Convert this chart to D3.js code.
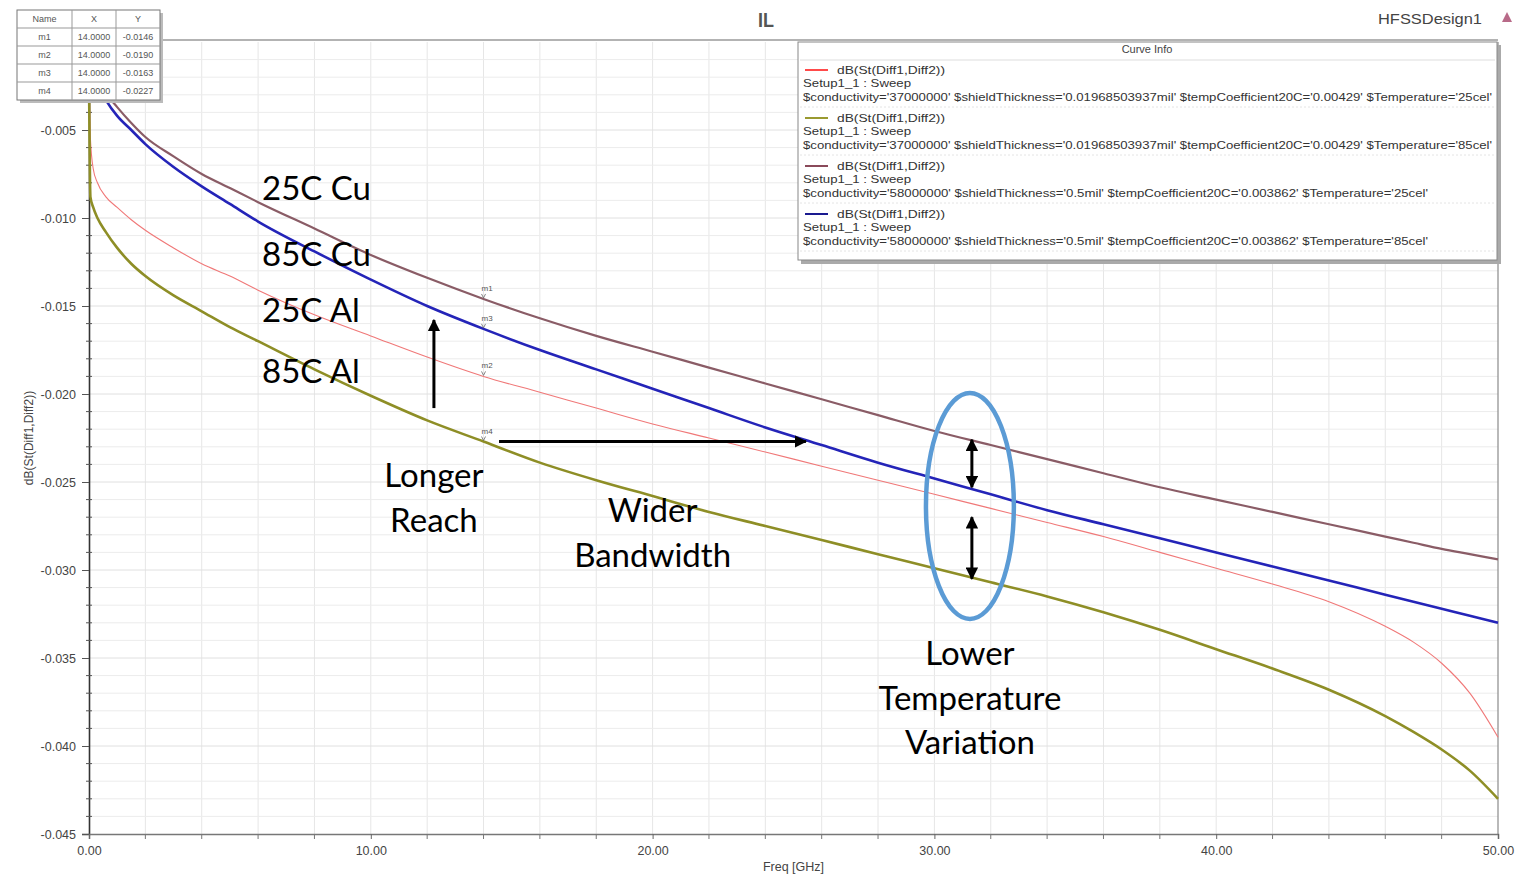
<!DOCTYPE html>
<html>
<head>
<meta charset="utf-8">
<script src="https://cdn.jsdelivr.net/npm/d3@7"></script>
<style>
  html, body { margin: 0; padding: 0; background: #fff; }
  svg { display: block; }
  .anno { font-family: Lato, "Open Sans", sans-serif; fill: #000; font-size: 33px; }
</style>
</head>
<body>
<svg id="chart" width="1524" height="887"></svg>
<script>
// ---------------- data ----------------
const freq = [0, 0.05, 0.15, 0.3, 0.6, 1, 1.5, 2, 3, 4, 5, 6, 8, 10, 12, 14, 16, 18, 20, 22, 24, 26, 28, 30, 32, 34, 36, 38, 40, 42, 44, 46, 47, 48, 49, 50];

const al25 = [-0.0010, -0.0055, -0.0072, -0.0080, -0.0088, -0.0094, -0.0101, -0.0107, -0.0117, -0.0126, -0.0133, -0.0141, -0.0155, -0.0167, -0.0179, -0.0190, -0.0199, -0.0208, -0.0217, -0.0225, -0.0233, -0.0241, -0.0249, -0.0257, -0.0265, -0.0273, -0.0281, -0.0290, -0.0299, -0.0308, -0.0318, -0.0332, -0.0341, -0.0353, -0.0370, -0.0395];
const al85 = [-0.0020, -0.0088, -0.0094, -0.0100, -0.0108, -0.0117, -0.0126, -0.0133, -0.0144, -0.0153, -0.0162, -0.0170, -0.0186, -0.0201, -0.0215, -0.0227, -0.0239, -0.0249, -0.0258, -0.0267, -0.0275, -0.0283, -0.0291, -0.0299, -0.0307, -0.0315, -0.0324, -0.0334, -0.0345, -0.0356, -0.0368, -0.0383, -0.0392, -0.0402, -0.0414, -0.0430];
const cu25 = [-0.0004, -0.0009, -0.0015, -0.0021, -0.0029, -0.0037, -0.0046, -0.0054, -0.0065, -0.0075, -0.0083, -0.0091, -0.0106, -0.0121, -0.0134, -0.0146, -0.0157, -0.0167, -0.0176, -0.0185, -0.0194, -0.0203, -0.0212, -0.0221, -0.0229, -0.0237, -0.0245, -0.0253, -0.0260, -0.0267, -0.0274, -0.0281, -0.02845, -0.0288, -0.0291, -0.0294];
const cu85 = [-0.0005, -0.0010, -0.0017, -0.0024, -0.0033, -0.0042, -0.0050, -0.0058, -0.0071, -0.0082, -0.0092, -0.0102, -0.0119, -0.0135, -0.0150, -0.0163, -0.0175, -0.0186, -0.0197, -0.0208, -0.0219, -0.0229, -0.0239, -0.0248, -0.0257, -0.0266, -0.0274, -0.0282, -0.0290, -0.0298, -0.0306, -0.0314, -0.0318, -0.0322, -0.0326, -0.0330];

const seriesNames = ["Al 25C", "Al 85C", "Cu 25C", "Cu 85C"];
const seriesValues = [al25, al85, cu25, cu85];
const seriesColors = ["#f07878", "#8e8e26", "#8a5c66", "#2424b8"];
const seriesWidths = [1.1, 2.6, 2.2, 2.6];
const drawOrder = [0, 2, 3, 1];

const legendName = "dB(St(Diff1,Diff2))";
const legendSetup = "Setup1_1 : Sweep";
const legendParams = [
  "$conductivity='37000000' $shieldThickness='0.01968503937mil' $tempCoefficient20C='0.00429' $Temperature='25cel'",
  "$conductivity='37000000' $shieldThickness='0.01968503937mil' $tempCoefficient20C='0.00429' $Temperature='85cel'",
  "$conductivity='58000000' $shieldThickness='0.5mil' $tempCoefficient20C='0.003862' $Temperature='25cel'",
  "$conductivity='58000000' $shieldThickness='0.5mil' $tempCoefficient20C='0.003862' $Temperature='85cel'"
];
const legendColors = ["#ff4a4a", "#9a9a30", "#8a4a5a", "#1a1a90"];

const markerNames = ["m1", "m2", "m3", "m4"];
const markerFreq = [14, 14, 14, 14];
const markerValues = [-0.0146, -0.0190, -0.0163, -0.0227];

const xTicks = [0, 10, 20, 30, 40, 50];
const yTicks = [-0.005, -0.010, -0.015, -0.020, -0.025, -0.030, -0.035, -0.040, -0.045];

// annotations (data units)
const labelTexts = ["25C Cu", "85C Cu", "25C Al", "85C Al"];
const labelPos = [[6.14, -0.0090], [6.14, -0.0127], [6.14, -0.0159], [6.14, -0.0194]];
const noteTexts = [["Longer", "Reach"], ["Wider", "Bandwidth"], ["Lower", "Temperature", "Variation"]];
const notePos = [[12.24, -0.0253], [20.0, -0.0273], [31.26, -0.0354]];

// ---------------- layout ----------------
const svg = d3.select("#chart");
const x = d3.scaleLinear().domain([0, 50]).range([89, 1498]);
const y = d3.scaleLinear().domain([-0.045, 0]).range([834, 42]);
const FONT = "'Liberation Sans', Arial, sans-serif";

// grid
const grid = svg.append("g");
grid.selectAll("line.vg").data(d3.range(2, 50, 2)).enter().append("line")
  .attr("x1", d => x(d)).attr("x2", d => x(d)).attr("y1", y(0)).attr("y2", y(-0.045))
  .attr("stroke", "#e6e6e6").attr("stroke-width", 1);
grid.selectAll("line.hg").data(d3.range(1, 45).map(i => -i * 0.001)).enter().append("line")
  .attr("x1", x(0)).attr("x2", x(50)).attr("y1", d => y(d)).attr("y2", d => y(d))
  .attr("stroke", d => (Math.round(-d * 1000) % 5 === 0) ? "#e0e0e0" : "#ececec").attr("stroke-width", 1);

// frame
svg.append("line").attr("x1", x(0)).attr("x2", x(50)).attr("y1", y(0) - 2).attr("y2", y(0) - 2).attr("stroke", "#9a9a9a").attr("stroke-width", 1.5);
svg.append("line").attr("x1", x(50)).attr("x2", x(50)).attr("y1", y(0)).attr("y2", y(-0.045)).attr("stroke", "#8a8a8a").attr("stroke-width", 1.2);

// axes
const fmtY = d => d3.format(".3f")(d).replace("\u2212", "-");
const yAxis = d3.axisLeft(y).tickValues(yTicks).tickFormat(fmtY).tickSize(7).tickPadding(6);
const gy = svg.append("g").attr("transform", `translate(${x(0)},0)`).call(yAxis);
gy.select(".domain").attr("stroke", "#333").attr("stroke-width", 1.6);
gy.selectAll(".tick line").attr("stroke", "#555");
gy.selectAll(".tick text").style("font-size", "12.5px").style("font-family", FONT).attr("fill", "#444");
const yMinor = d3.range(1, 45).map(i => -i * 0.001).filter(v => Math.round(-v * 1000) % 5 !== 0);
svg.append("g").selectAll("line").data(yMinor).enter().append("line")
  .attr("x1", x(0) - 3).attr("x2", x(0) + 3).attr("y1", d => y(d)).attr("y2", d => y(d))
  .attr("stroke", "#555").attr("stroke-width", 1);

const xAxis = d3.axisBottom(x).tickValues(xTicks).tickFormat(d3.format(".2f")).tickSize(5).tickPadding(7);
const gx = svg.append("g").attr("transform", `translate(0,${y(-0.045)})`).call(xAxis);
gx.select(".domain").attr("stroke", "#777").attr("stroke-width", 1.6);
gx.selectAll(".tick line").attr("stroke", "#666");
gx.selectAll(".tick text").style("font-size", "12.5px").style("font-family", FONT).attr("fill", "#444");
svg.append("g").selectAll("line").data(d3.range(2, 50, 2).filter(d => d % 10 !== 0)).enter().append("line")
  .attr("x1", d => x(d)).attr("x2", d => x(d)).attr("y1", y(-0.045)).attr("y2", y(-0.045) + 5)
  .attr("stroke", "#777").attr("stroke-width", 1);

// axis titles
svg.append("text").attr("x", x(25.0)).attr("y", 871).attr("text-anchor", "middle")
  .style("font-family", FONT).style("font-size", "12.5px").attr("fill", "#444")
  .text("Freq [GHz]");
svg.append("text").attr("transform", `translate(33,${y(-0.0225)}) rotate(-90)`).attr("text-anchor", "middle")
  .style("font-family", FONT).style("font-size", "12px").attr("fill", "#444")
  .text("dB(St(Diff1,Diff2))");

// title
svg.append("text").attr("x", 766).attr("y", 27).attr("text-anchor", "middle")
  .style("font-family", FONT).style("font-size", "21px").style("font-weight", "bold").attr("fill", "#555")
  .attr("textLength", 16).attr("lengthAdjust", "spacingAndGlyphs").text("IL");
svg.append("text").attr("x", 1430).attr("y", 24).attr("text-anchor", "middle")
  .style("font-family", FONT).style("font-size", "14px").attr("fill", "#444")
  .attr("textLength", 104).attr("lengthAdjust", "spacingAndGlyphs").text("HFSSDesign1");
svg.append("path").attr("d", "M1502,22 L1507,12 L1512,22 Z").attr("fill", "#b86a88");

// curves
const line = d3.line().x(d => x(d[0])).y(d => y(d[1])).curve(d3.curveMonotoneX);
const curves = svg.append("g");
drawOrder.forEach(i => {
  const pts = freq.map((f, k) => [f, seriesValues[i][k]]);
  curves.append("path").datum(pts).attr("d", line)
    .attr("fill", "none").attr("stroke", seriesColors[i]).attr("stroke-width", seriesWidths[i])
    .attr("stroke-linejoin", "round");
});

// curve markers
const mk = svg.append("g");
markerNames.forEach((n, i) => {
  const cx = x(markerFreq[i]), cy = y(markerValues[i]);
  mk.append("text").attr("x", cx - 2).attr("y", cy - 8)
    .style("font-family", FONT).style("font-size", "8px").attr("fill", "#555").text(n);
  mk.append("path").attr("d", `M${cx - 2},${cy - 5} L${cx},${cy - 1} L${cx + 2},${cy - 5}`)
    .attr("fill", "none").attr("stroke", "#666").attr("stroke-width", 0.8);
});

// marker table
const tbl = svg.append("g");
tbl.append("rect").attr("x", 20).attr("y", 13).attr("width", 143).attr("height", 90).attr("fill", "#bbb");
tbl.append("rect").attr("x", 17).attr("y", 10).attr("width", 143).attr("height", 90).attr("fill", "#fff").attr("stroke", "#777");
const cols = [17, 72, 116, 160];
const rowsTxt = [["Name", "X", "Y"]].concat(markerNames.map((n, i) => [n, markerFreq[i].toFixed(4), markerValues[i].toFixed(4)]));
rowsTxt.forEach((r, ri) => {
  const ty = 10 + ri * 18;
  if (ri > 0) tbl.append("line").attr("x1", 17).attr("x2", 160).attr("y1", ty).attr("y2", ty).attr("stroke", "#999");
  r.forEach((t, ci) => {
    tbl.append("text").attr("x", (cols[ci] + cols[ci + 1]) / 2).attr("y", ty + 12).attr("text-anchor", "middle")
      .style("font-family", FONT).style("font-size", "9px").attr("fill", "#555").text(t);
  });
});
[72, 116].forEach(cx => tbl.append("line").attr("x1", cx).attr("x2", cx).attr("y1", 10).attr("y2", 100).attr("stroke", "#999"));

// legend box
const lg = svg.append("g");
lg.append("rect").attr("x", 801).attr("y", 45).attr("width", 700).attr("height", 219).attr("fill", "#aaa");
lg.append("rect").attr("x", 798).attr("y", 42).attr("width", 699).attr("height", 218).attr("fill", "#fff").attr("stroke", "#888");
lg.append("text").attr("x", 1147).attr("y", 53).attr("text-anchor", "middle")
  .style("font-family", FONT).style("font-size", "11px").attr("fill", "#444").text("Curve Info");
lg.append("line").attr("x1", 800).attr("x2", 1495).attr("y1", 60).attr("y2", 60).attr("stroke", "#ddd");
legendParams.forEach((p, i) => {
  const by = 74 + i * 48;
  lg.append("line").attr("x1", 805).attr("x2", 828).attr("y1", by - 4).attr("y2", by - 4)
    .attr("stroke", legendColors[i]).attr("stroke-width", 2);
  lg.append("text").attr("x", 837).attr("y", by).attr("textLength", 108).attr("lengthAdjust", "spacingAndGlyphs")
    .style("font-family", FONT).style("font-size", "11px").attr("fill", "#333").text(legendName);
  lg.append("text").attr("x", 803).attr("y", by + 13).attr("textLength", 108).attr("lengthAdjust", "spacingAndGlyphs")
    .style("font-family", FONT).style("font-size", "11px").attr("fill", "#333").text(legendSetup);
  lg.append("text").attr("x", 803).attr("y", by + 27).attr("textLength", i < 2 ? 689 : 625).attr("lengthAdjust", "spacingAndGlyphs")
    .style("font-family", FONT).style("font-size", "11px").attr("fill", "#333").text(p);
  lg.append("line").attr("x1", 800).attr("x2", 1495).attr("y1", by + 33).attr("y2", by + 33)
    .attr("stroke", "#e4e4e4").attr("stroke-dasharray", "2,2");
});

// annotations
const an = svg.append("g");
labelTexts.forEach((t, i) => {
  an.append("text").attr("class", "anno").attr("x", x(labelPos[i][0])).attr("y", y(labelPos[i][1])).text(t);
});
noteTexts.forEach((lines, i) => {
  lines.forEach((t, j) => {
    an.append("text").attr("class", "anno").attr("text-anchor", "middle")
      .attr("x", x(notePos[i][0])).attr("y", y(notePos[i][1]) + j * 44.5).text(t);
  });
});

const defs = svg.append("defs");
defs.append("marker").attr("id", "ah").attr("viewBox", "0 0 10 10").attr("refX", 9).attr("refY", 5)
  .attr("markerWidth", 4.2).attr("markerHeight", 4.2).attr("orient", "auto-start-reverse")
  .append("path").attr("d", "M0,0 L10,5 L0,10 Z").attr("fill", "#000");

const arrows = [
  { x1: 12.24, y1: -0.0208, x2: 12.24, y2: -0.0158, both: false },
  { x1: 14.55, y1: -0.0227, x2: 25.44, y2: -0.0227, both: false },
  { x1: 31.33, y1: -0.0253, x2: 31.33, y2: -0.0226, both: true },
  { x1: 31.33, y1: -0.0305, x2: 31.33, y2: -0.0270, both: true }
];
arrows.forEach(a => {
  const l = an.append("line").attr("x1", x(a.x1)).attr("y1", y(a.y1)).attr("x2", x(a.x2)).attr("y2", y(a.y2))
    .attr("stroke", "#000").attr("stroke-width", 3).attr("marker-end", "url(#ah)");
  if (a.both) l.attr("marker-start", "url(#ah)");
});

// ellipse
const ell = { cx: 31.26, cy: -0.02636, rx: 1.56, ry: 0.00642 };
an.append("ellipse").attr("cx", x(ell.cx)).attr("cy", y(ell.cy))
  .attr("rx", x(ell.rx) - x(0)).attr("ry", y(-ell.ry) - y(0))
  .attr("fill", "none").attr("stroke", "#5b9bd5").attr("stroke-width", 4.5);
</script>
</body>
</html>
